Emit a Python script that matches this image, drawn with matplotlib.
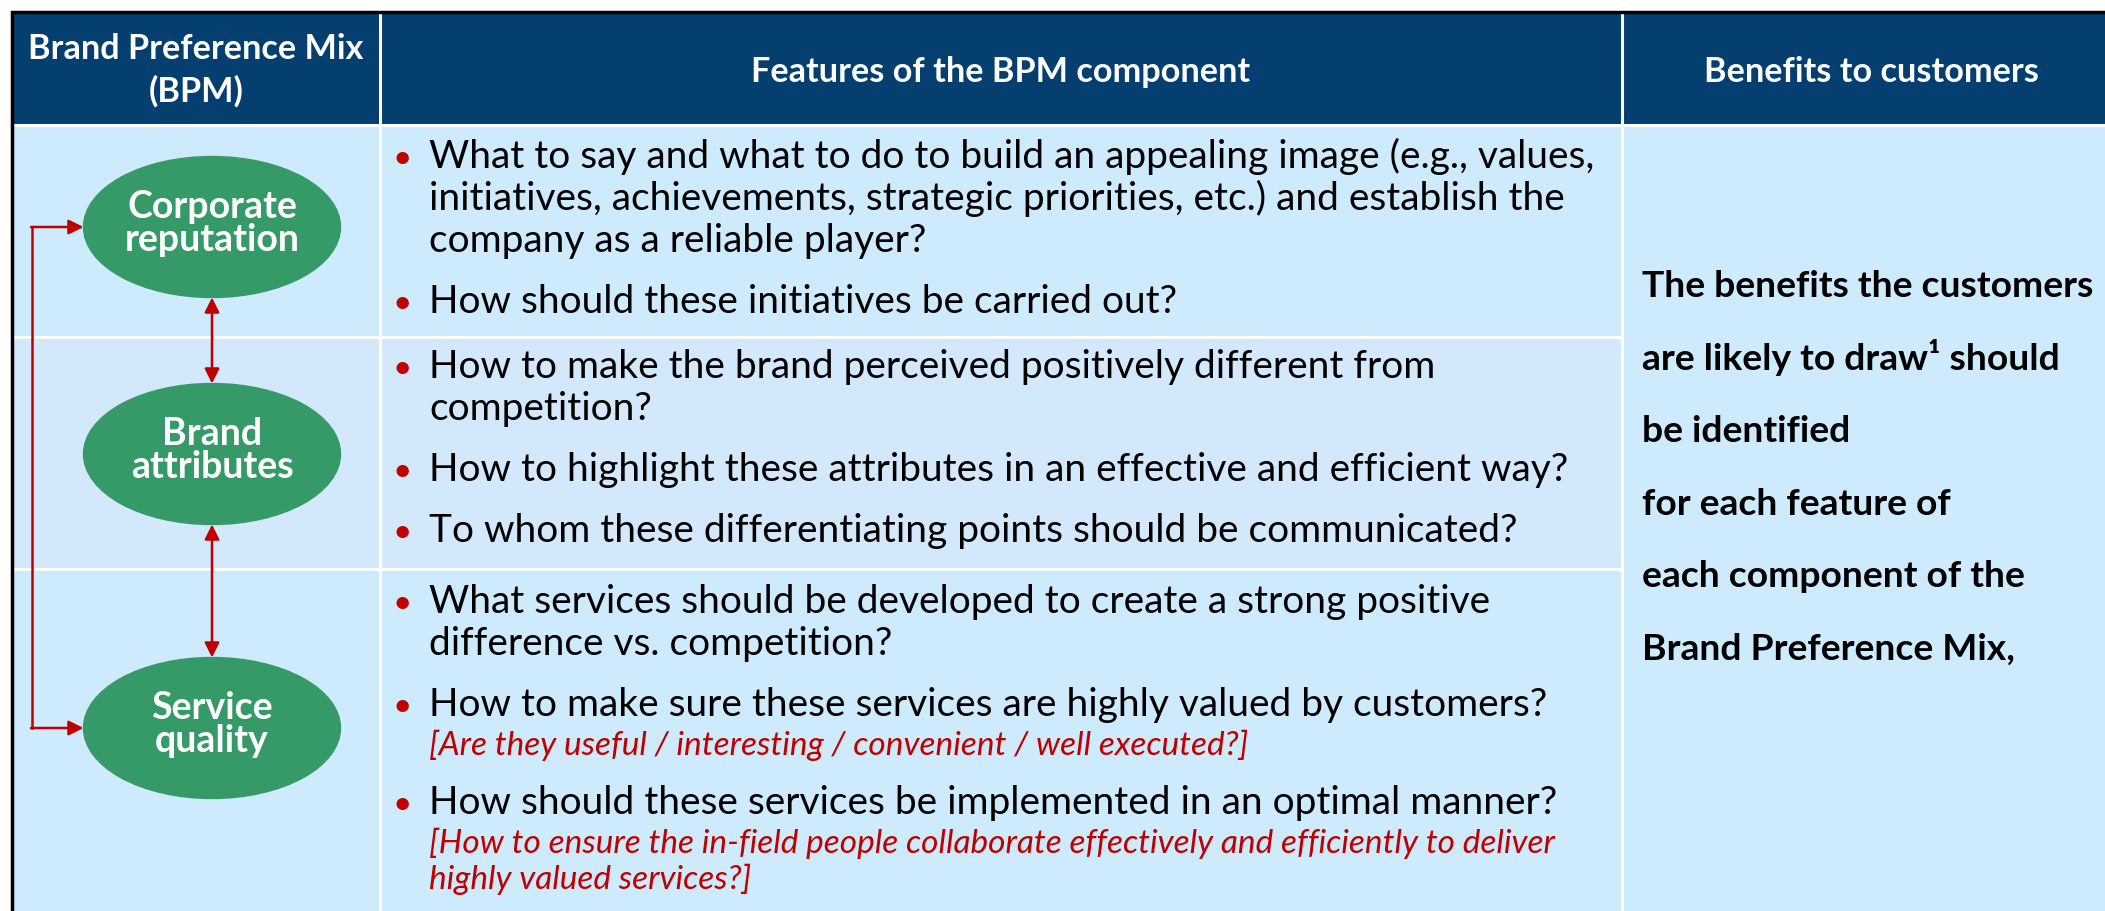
import matplotlib
matplotlib.use("Agg")
import matplotlib.pyplot as plt
from matplotlib.patches import Ellipse, Rectangle

# ---- content ----
header_labels = ["Brand Preference Mix\n(BPM)", "Features of the BPM component", "Benefits to customers"]
components = ["Corporate\nreputation", "Brand\nattributes", "Service\nquality"]

# each row: list of bullets, each bullet = (black lines, red italic note lines)
features = [
    [
        (["What to say and what to do to build an appealing image (e.g., values,",
          "initiatives, achievements, strategic priorities, etc.) and establish the",
          "company as a reliable player?"], []),
        (["How should these initiatives be carried out?"], []),
    ],
    [
        (["How to make the brand perceived positively different from",
          "competition?"], []),
        (["How to highlight these attributes in an effective and efficient way?"], []),
        (["To whom these differentiating points should be communicated?"], []),
    ],
    [
        (["What services should be developed to create a strong positive",
          "difference vs. competition?"], []),
        (["How to make sure these services are highly valued by customers?"],
         ["[Are they useful / interesting / convenient / well executed?]"]),
        (["How should these services be implemented in an optimal manner?"],
         ["[How to ensure the in-field people collaborate effectively and efficiently to deliver",
          "highly valued services?]"]),
    ],
]

benefits = ["The benefits the customers",
            "are likely to draw\u00b9 should",
            "be identified",
            "for each feature of",
            "each component of the",
            "Brand Preference Mix,"]

# ---- layout (pixels) ----
W, H = 2105, 911
left, top = 12, 12
col_x = [left, 380, 1622, W]
row_y = [top, 125, 337, 569, H]
row_bg = ["#CDEBFD", "#D4E8FB", "#CDEBFD"]
header_bg = "#043F6F"
green = "#359A68"
red = "#C00000"
ell_cx, ell_w, ell_h = 212, 257, 141
ell_cy = [227, 454, 728]
first_base = [168, 378, 613]

font = "Lato"
fs_head, fs_ell, fs_body, fs_note, fs_ben = 24.7, 27, 28, 24, 26.8

fig = plt.figure(figsize=(W / 100, H / 100), dpi=100)
ax = fig.add_axes([0, 0, 1, 1])
ax.set_xlim(0, W)
ax.set_ylim(H, 0)
ax.axis("off")

# header
ax.add_patch(Rectangle((left, top), W - left, row_y[1] - top, color=header_bg, zorder=0))
# body rows in first two columns
for i in range(3):
    ax.add_patch(Rectangle((left, row_y[i + 1]), col_x[2] - left, row_y[i + 2] - row_y[i + 1],
                           color=row_bg[i], zorder=0))
# benefits column spans all rows
ax.add_patch(Rectangle((col_x[2], row_y[1]), W - col_x[2], H - row_y[1], color="#CDEBFD", zorder=0))

# white cell borders
for x in col_x[1:3]:
    ax.plot([x, x], [top, H], color="white", lw=2.2, zorder=1)
ax.plot([left, W], [row_y[1], row_y[1]], color="white", lw=2.2, zorder=1)
for y in row_y[2:4]:
    ax.plot([left, col_x[2]], [y, y], color="white", lw=2.2, zorder=1)
# outer black border
ax.plot([left, left, W], [H, top, top], color="black", lw=2.5, zorder=2, solid_joinstyle="miter")

# header text
l1, l2 = header_labels[0].split("\n")
ax.text((col_x[0] + col_x[1]) / 2, 59, l1, color="white", fontsize=fs_head, fontweight="bold",
        family=font, ha="center", va="baseline")
ax.text((col_x[0] + col_x[1]) / 2, 102, l2, color="white", fontsize=fs_head, fontweight="bold",
        family=font, ha="center", va="baseline")
ax.text((col_x[1] + col_x[2]) / 2, 82, header_labels[1], color="white", fontsize=fs_head,
        fontweight="bold", family=font, ha="center", va="baseline")
ax.text((col_x[2] + col_x[3]) / 2 + 8, 82, header_labels[2], color="white", fontsize=fs_head,
        fontweight="bold", family=font, ha="center", va="baseline")

# component ellipses
for name, cy in zip(components, ell_cy):
    ax.add_patch(Ellipse((ell_cx, cy), ell_w, ell_h, color=green, zorder=3))
    a, b = name.split("\n")
    ax.text(ell_cx, cy - 9, a, color="white", fontsize=fs_ell, fontweight="bold", family=font,
            ha="center", va="baseline", zorder=4)
    ax.text(ell_cx, cy + 24, b, color="white", fontsize=fs_ell, fontweight="bold", family=font,
            ha="center", va="baseline", zorder=4)

# arrows between ellipses
arrow = dict(arrowstyle="<|-|>", color=red, lw=1.8, mutation_scale=22, shrinkA=0, shrinkB=0)
for c1, c2 in zip(ell_cy[:-1], ell_cy[1:]):
    ax.annotate("", xy=(ell_cx, c2 - ell_h / 2), xytext=(ell_cx, c1 + ell_h / 2),
                arrowprops=arrow, zorder=3)
# loop from corporate reputation down to service quality
loop_x = 32
ax.plot([loop_x, loop_x], [ell_cy[0], ell_cy[2]], color=red, lw=1.8, zorder=3)
one_way = dict(arrowstyle="-|>", color=red, lw=1.8, mutation_scale=22, shrinkA=0, shrinkB=0)
for cy in (ell_cy[0], ell_cy[2]):
    ax.annotate("", xy=(ell_cx - ell_w / 2, cy), xytext=(loop_x - 1, cy), arrowprops=one_way, zorder=3)

# feature bullets
bullet_x, text_x = 392, 429
for r, items in enumerate(features):
    y = first_base[r]
    for k, (lines, notes) in enumerate(items):
        if k > 0:
            y += 61
        ax.text(bullet_x, y, "\u2022", color=red, fontsize=24, family=font, ha="left", va="baseline")
        for j, ln in enumerate(lines):
            if j > 0:
                y += 42
            ax.text(text_x, y, ln, color="black", fontsize=fs_body, family=font, ha="left", va="baseline")
        for j, ln in enumerate(notes):
            y += 39 if j == 0 else 36
            ax.text(text_x, y, ln, color=red, fontsize=fs_note, family=font, style="italic",
                    ha="left", va="baseline")
        if notes:
            y -= 2

# benefits text
for i, ln in enumerate(benefits):
    ax.text(1642, 297 + 72.6 * i, ln, color="black", fontsize=fs_ben, fontweight="bold",
            family=font, ha="left", va="baseline")

fig.savefig("out.png", dpi=100)
